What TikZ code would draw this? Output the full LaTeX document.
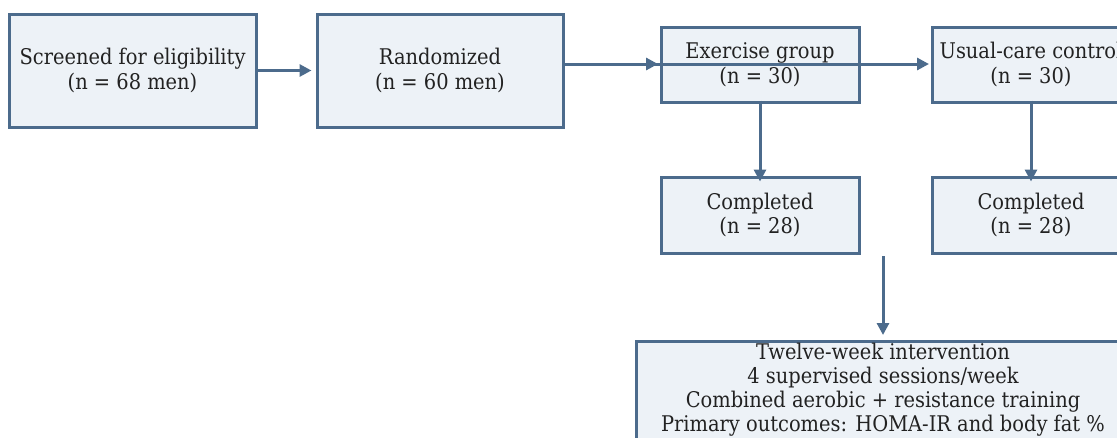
\documentclass[tikz,border=0pt]{standalone}
\usepackage{fontspec}
\setmainfont{DejaVu Serif Condensed}
\usetikzlibrary{arrows.meta}
\definecolor{edge}{HTML}{4C6B8C}
\definecolor{boxfill}{HTML}{EDF2F7}
\definecolor{txt}{HTML}{222222}
\begin{document}
\begin{tikzpicture}[x=1pt,y=-1pt,
  box/.style={draw=edge,fill=boxfill,line width=3pt,inner sep=0pt,
    align=center,text=txt,font=\fontsize{21.6}{24.5}\selectfont},
  conn/.style={draw=edge,line width=3pt,-{Triangle[length=12pt,width=12pt]}}]
\useasboundingbox (0,0) rectangle (1117,437);
\begin{scope}
\clip (0,0) rectangle (1117,437);
\node[box,minimum width=247pt,minimum height=113pt] (scr) at (132.5,70.5) {Screened for eligibility\\(n = 68 men)};
\node[box,minimum width=246pt,minimum height=113pt] (rnd) at (440,70.5) {Randomized\\(n = 60 men)};
\node[box,minimum width=198pt,minimum height=75pt] (exe) at (760,64.5) {Exercise group\\(n = 30)};
\node[box,minimum width=198pt,minimum height=75pt] (usu) at (1031,64.5) {Usual-care control\\(n = 30)};
\node[box,minimum width=198pt,minimum height=76pt] (ce) at (760,215) {Completed\\(n = 28)};
\node[box,minimum width=198pt,minimum height=76pt] (cu) at (1031,215) {Completed\\(n = 28)};
\node[box,minimum width=494pt,minimum height=120pt,anchor=north] (int) at (883,340) {};
\node[text=txt,font=\fontsize{21.6}{24}\selectfont,align=center,anchor=north,inner sep=0pt] (inttxt) at (883,343) {Twelve-week intervention\\4 supervised sessions/week\\Combined aerobic + resistance training\\Primary outcomes: HOMA-IR and body fat \%};
\coordinate (rs) at (563,64);
\coordinate (ein) at (658,64);
\coordinate (uin) at (929,64);
\coordinate (gap) at (883,256);
\coordinate (intop) at (883,335);
\draw[conn] (scr.east) -- ([xshift=-4pt]rnd.west);
\draw[conn] (rs) -- (ein);
\draw[conn] (rs) -- (uin);
\draw[conn] ([yshift=3pt]exe.south) -- ([yshift=-6pt]ce.north);
\draw[conn] ([yshift=3pt]usu.south) -- ([yshift=-6pt]cu.north);
\draw[conn] (gap) -- (intop);
\end{scope}
\end{tikzpicture}
\end{document}
